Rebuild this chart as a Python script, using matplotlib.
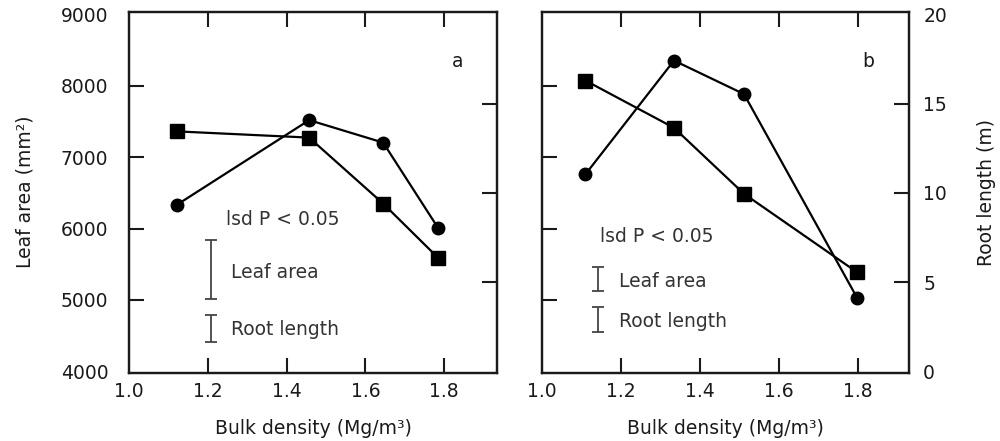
import matplotlib
matplotlib.use("Agg")
import matplotlib.pyplot as plt

# ---- data ----
bd_a = [1.12, 1.457, 1.645, 1.785]
leaf_a = [6330, 7520, 7205, 6005]
root_a = [13.45, 13.1, 9.4, 6.35]

bd_b = [1.111, 1.335, 1.512, 1.798]
leaf_b = [6760, 8355, 7885, 5030]
root_b = [16.3, 13.65, 9.95, 5.55]

lsd_leaf = [830, 340]
lsd_root = [1.5, 1.45]

x_ticks = [1.2, 1.4, 1.6, 1.8]
x_end_ticks = [1.0]
leaf_ticks = [5000, 6000, 7000, 8000]
leaf_end_ticks = [4000, 9000]
root_ticks = [5, 10, 15]
root_end_ticks = [0, 20]
panel_labels = ["a", "b"]

plt.rcParams['font.family'] = ['DejaVu Sans']
TXT = '#1a1a1a'
FS = 13.5

fig = plt.figure(figsize=(10, 4.41), dpi=100)
axA = fig.add_axes([0.1293, 0.1549, 0.368, 0.8186])
axB = fig.add_axes([0.5415, 0.1549, 0.3678, 0.8186])

leaf_lim = (3980, 9040)
root_lim = ((leaf_lim[0] - 4000) / 250, (leaf_lim[1] - 4000) / 250)

panels = [
    (axA, bd_a, leaf_a, root_a, 0, (1.0, 1.935)),
    (axB, bd_b, leaf_b, root_b, 1, (1.0, 1.93)),
]

# annotation positions (layout)
lsd_pos = [
    dict(bar_x=1.208, leaf_y=5426, root_y=2.41, title=(1.2457, 6121), t1=(1.258, 5381), t2=(1.258, 4588)),
    dict(bar_x=1.143, leaf_y=5297, root_y=2.9, title=(1.1477, 5886), t1=(1.1957, 5255), t2=(1.1957, 4694)),
]

for ax, bd, leaf, root, i, xl in panels:
    axr = ax.twinx()
    ax.set_xlim(*xl)
    ax.set_ylim(*leaf_lim)
    axr.set_ylim(*root_lim)

    # major ticks: visible inward marks; minor ticks: labels only (at axis ends)
    ax.set_xticks(x_ticks)
    ax.set_xticklabels([f"{v:.1f}" for v in x_ticks])
    ax.set_xticks(x_end_ticks, minor=True)
    ax.set_xticklabels([f"{v:.1f}" for v in x_end_ticks], minor=True)

    for a in (ax, axr):
        for s in a.spines.values():
            s.set_linewidth(1.6)
            s.set_color(TXT)
    ax.tick_params(axis='x', which='major', direction='in', length=11, width=1.5, top=True,
                   labelsize=FS, pad=7, colors=TXT)
    ax.tick_params(axis='x', which='minor', direction='in', length=0, top=False,
                   labelsize=FS, pad=7, colors=TXT)
    ax.tick_params(axis='y', which='major', direction='in', length=11, width=1.5,
                   labelsize=FS, pad=15, colors=TXT)
    ax.tick_params(axis='y', which='minor', direction='in', length=0,
                   labelsize=FS, pad=15, colors=TXT)
    axr.tick_params(axis='y', which='major', direction='in', length=11, width=1.5,
                    labelsize=FS, pad=10, colors=TXT)
    axr.tick_params(axis='y', which='minor', direction='in', length=0,
                    labelsize=FS, pad=10, colors=TXT)

    ax.set_yticks(leaf_ticks)
    axr.set_yticks(root_ticks)
    if i == 0:
        ax.set_yticklabels([str(v) for v in leaf_ticks])
        ax.set_yticks(leaf_end_ticks, minor=True)
        ax.set_yticklabels([str(v) for v in leaf_end_ticks], minor=True)
        axr.set_yticklabels([])
        axr.set_yticks([], minor=True)
        ax.set_ylabel("Leaf area (mm²)", fontsize=FS, color=TXT, labelpad=19)
    else:
        ax.set_yticklabels([])
        ax.set_yticks([], minor=True)
        axr.set_yticklabels([str(v) for v in root_ticks])
        axr.set_yticks(root_end_ticks, minor=True)
        axr.set_yticklabels([str(v) for v in root_end_ticks], minor=True)
        axr.set_ylabel("Root length (m)", fontsize=FS, color=TXT, labelpad=22)
    ax.set_xlabel("Bulk density (Mg/m³)", fontsize=FS, color=TXT, labelpad=13)

    ax.plot(bd, leaf, '-o', color='black', lw=1.6, ms=9, zorder=3)
    axr.plot(bd, root, '-s', color='black', lw=1.6, ms=9.5, zorder=3)

    p = lsd_pos[i]
    ax.errorbar([p['bar_x']], [p['leaf_y']], yerr=[lsd_leaf[i] / 2], fmt='none',
                ecolor='#444444', elinewidth=1.3, capsize=4, capthick=1.3)
    axr.errorbar([p['bar_x']], [p['root_y']], yerr=[lsd_root[i] / 2], fmt='none',
                 ecolor='#444444', elinewidth=1.3, capsize=4, capthick=1.3)
    ax.text(*p['title'], "lsd P < 0.05", fontsize=FS, color='#333333', va='center', ha='left')
    ax.text(*p['t1'], "Leaf area", fontsize=FS, color='#333333', va='center', ha='left')
    ax.text(*p['t2'], "Root length", fontsize=FS, color='#333333', va='center', ha='left')
    ax.text(1.833 if i == 0 else 1.825, 8341, panel_labels[i], fontsize=FS,
            color=TXT, va='center', ha='center')

fig.savefig("out.png", dpi=100)
